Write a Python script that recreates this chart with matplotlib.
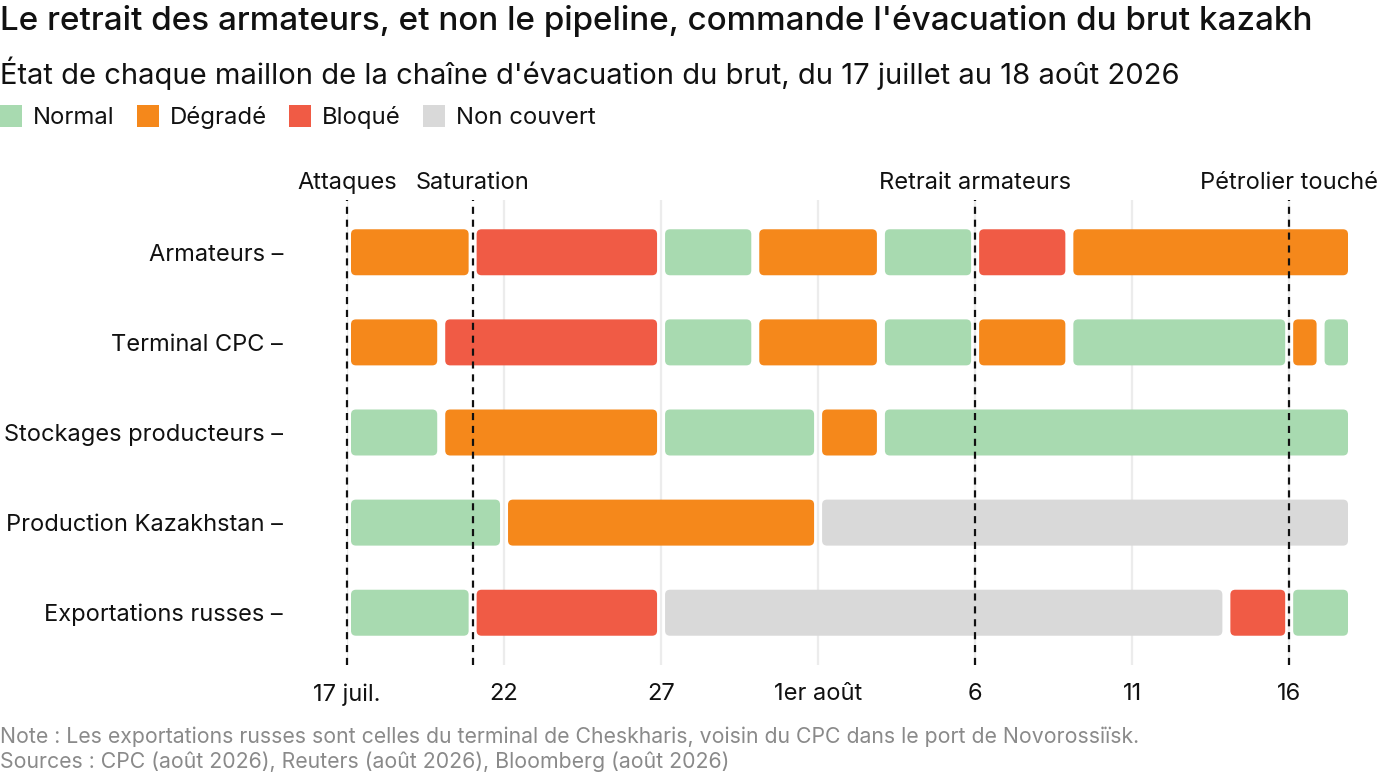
"""Chaîne d'évacuation du brut kazakh : état de chaque maillon (juil.-août 2026)."""

import matplotlib
matplotlib.use("Agg")
import matplotlib.dates as mdates
import matplotlib.pyplot as plt
from matplotlib.patches import FancyBboxPatch, Rectangle
import pandas as pd

plt.rcParams["font.family"] = ["Inter", "DejaVu Sans"]

# ---- data ----
ROWS = ["Armateurs", "Terminal CPC", "Stockages producteurs",
        "Production Kazakhstan", "Exportations russes"]

STATES = ["Normal", "Dégradé", "Bloqué", "Non couvert"]
STATE_COLORS = {"Normal": "#a8dab0", "Dégradé": "#f5881b",
                "Bloqué": "#f05b45", "Non couvert": "#d9d9d9"}

# (début, fin, état) pour chaque maillon
armateurs = [("2026-07-17", "2026-07-21", "Dégradé"),
             ("2026-07-21", "2026-07-27", "Bloqué"),
             ("2026-07-27", "2026-07-30", "Normal"),
             ("2026-07-30", "2026-08-03", "Dégradé"),
             ("2026-08-03", "2026-08-06", "Normal"),
             ("2026-08-06", "2026-08-09", "Bloqué"),
             ("2026-08-09", "2026-08-18", "Dégradé")]
terminal_cpc = [("2026-07-17", "2026-07-20", "Dégradé"),
                ("2026-07-20", "2026-07-27", "Bloqué"),
                ("2026-07-27", "2026-07-30", "Normal"),
                ("2026-07-30", "2026-08-03", "Dégradé"),
                ("2026-08-03", "2026-08-06", "Normal"),
                ("2026-08-06", "2026-08-09", "Dégradé"),
                ("2026-08-09", "2026-08-16", "Normal"),
                ("2026-08-16", "2026-08-17", "Dégradé"),
                ("2026-08-17", "2026-08-18", "Normal")]
stockages = [("2026-07-17", "2026-07-20", "Normal"),
             ("2026-07-20", "2026-07-27", "Dégradé"),
             ("2026-07-27", "2026-08-01", "Normal"),
             ("2026-08-01", "2026-08-03", "Dégradé"),
             ("2026-08-03", "2026-08-18", "Normal")]
production = [("2026-07-17", "2026-07-22", "Normal"),
              ("2026-07-22", "2026-08-01", "Dégradé"),
              ("2026-08-01", "2026-08-18", "Non couvert")]
exportations = [("2026-07-17", "2026-07-21", "Normal"),
                ("2026-07-21", "2026-07-27", "Bloqué"),
                ("2026-07-27", "2026-08-14", "Non couvert"),
                ("2026-08-14", "2026-08-16", "Bloqué"),
                ("2026-08-16", "2026-08-18", "Normal")]
SEGMENTS = [armateurs, terminal_cpc, stockages, production, exportations]

EVENT_DATES = ["2026-07-17", "2026-07-21", "2026-08-06", "2026-08-16"]
EVENT_LABELS = ["Attaques", "Saturation", "Retrait armateurs", "Pétrolier touché"]

TICK_DATES = ["2026-07-17", "2026-07-22", "2026-07-27", "2026-08-01",
              "2026-08-06", "2026-08-11", "2026-08-16"]
TICK_LABELS = ["17 juil.", "22", "27", "1er août", "6", "11", "16"]

X_START, X_END = "2026-07-17", "2026-08-18"

TITLE = "Le retrait des armateurs, et non le pipeline, commande l'évacuation du brut kazakh"
SUBTITLE = "État de chaque maillon de la chaîne d'évacuation du brut, du 17 juillet au 18 août 2026"
NOTE = ("Note : Les exportations russes sont celles du terminal de Cheskharis, "
        "voisin du CPC dans le port de Novorossiïsk.\n"
        "Sources : CPC (août 2026), Reuters (août 2026), Bloomberg (août 2026)")


def d(s):
    return mdates.date2num(pd.Timestamp(s))


fig = plt.figure(figsize=(14, 7.78), dpi=100)
ax = fig.add_axes([347 / 1400, 1 - 665 / 778, (1352 - 347) / 1400, (665 - 200) / 778])
ax.set_xlim(d(X_START), d(X_END))
ax.set_ylim(len(ROWS) - 1 + 0.58, -0.58)

# pixel -> data conversions for gaps and rounded corners
bb = ax.get_window_extent()
px_x = (d(X_END) - d(X_START)) / bb.width
px_y = (len(ROWS) - 1 + 1.16) / bb.height
gap = 4 * px_x
bar_h = 46 * px_y
radius = 5 * px_x

for i, segs in enumerate(SEGMENTS):
    for start, end, state in segs:
        x0, x1 = d(start) + gap, d(end) - gap
        patch = FancyBboxPatch(
            (x0, i - bar_h / 2), x1 - x0, bar_h,
            boxstyle=f"round,pad=0,rounding_size={radius}",
            mutation_aspect=px_y / px_x,
            facecolor=STATE_COLORS[state], edgecolor="none", zorder=2,
        )
        ax.add_patch(patch)

# grid + event lines
tick_x = [d(t) for t in TICK_DATES]
for x in tick_x:
    ax.axvline(x, color="#ececec", linewidth=1.6, zorder=0)
for x, lab in zip([d(e) for e in EVENT_DATES], EVENT_LABELS):
    ax.axvline(x, color="#111111", linewidth=1.6, linestyle=(0, (3.2, 2.6)),
               zorder=3, clip_on=False)
    ax.text(x, -0.58 - 11 * px_y, lab, ha="center", va="baseline", fontsize=17,
            color="#111111")

ax.set_xticks(tick_x, TICK_LABELS, fontsize=17)
ax.set_yticks(range(len(ROWS)), [r + " –" for r in ROWS], fontsize=17)
ax.tick_params(axis="both", length=0, colors="#111111")
ax.tick_params(axis="y", pad=46)
ax.tick_params(axis="x", pad=13)
for s in ax.spines.values():
    s.set_visible(False)

# titles
fig.text(0, 1 - 21 / 778, TITLE, fontsize=23.9, fontweight="medium", color="#111111",
         ha="left", va="center")
fig.text(0, 1 - 73 / 778, SUBTITLE, fontsize=21, color="#111111", ha="left", va="center")

# legend drawn manually, left to right
renderer = fig.canvas.get_renderer()
lx, ly = 0.0, 1 - 116 / 778
sq_w, sq_h = 22 / 1400, 22 / 778
for state in STATES:
    fig.add_artist(Rectangle((lx, ly - sq_h / 2), sq_w, sq_h, transform=fig.transFigure,
                             facecolor=STATE_COLORS[state], edgecolor="none"))
    t = fig.text(lx + sq_w + 11 / 1400, ly - 1.5 / 778, state, fontsize=17.2,
                 color="#111111", ha="left", va="center")
    w = t.get_window_extent(renderer).width / 1400
    lx = lx + sq_w + 11 / 1400 + w + 22 / 1400

fig.text(0, 1 - 749 / 778, NOTE, fontsize=15.3, color="#8a8a8a", ha="left", va="center",
         linespacing=1.25)

fig.savefig("out.png", dpi=100)
